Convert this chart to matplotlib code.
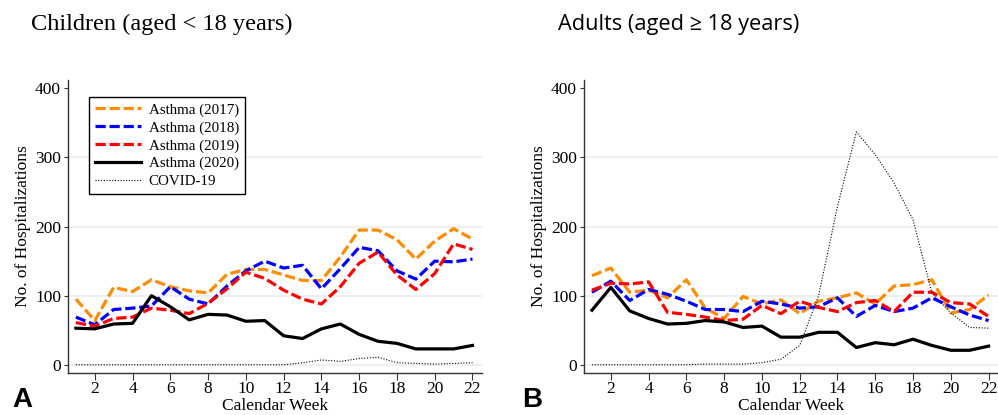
import matplotlib.pyplot as plt
import numpy as np

weeks = list(range(1, 23))

# children (aged < 18)
child_2017 = [95, 64, 112, 106, 123, 113, 107, 104, 131, 138, 138, 130, 122, 122, 156, 195, 195, 181, 153, 179, 197, 182]
child_2018 = [69, 58, 80, 82, 85, 113, 95, 88, 114, 136, 150, 140, 144, 110, 139, 170, 165, 136, 124, 150, 149, 153]
child_2019 = [61, 56, 67, 69, 82, 79, 74, 89, 110, 134, 125, 108, 95, 88, 113, 147, 163, 130, 109, 132, 175, 167]
child_2020 = [53, 52, 59, 60, 100, 84, 65, 73, 72, 63, 64, 42, 38, 52, 59, 44, 34, 31, 23, 23, 23, 28]
child_covid = [0, 0, 0, 0, 0, 0, 0, 0, 0, 0, 0, 0, 3, 7, 5, 9, 11, 3, 2, 1, 2, 3]

# adults (aged >= 18)
adult_2017 = [129, 140, 105, 108, 97, 123, 82, 67, 99, 88, 94, 74, 92, 97, 104, 88, 114, 116, 123, 75, 80, 101]
adult_2018 = [105, 121, 93, 109, 102, 92, 80, 80, 77, 92, 88, 82, 84, 97, 70, 86, 77, 82, 97, 84, 72, 64]
adult_2019 = [108, 118, 117, 120, 76, 73, 69, 64, 66, 86, 74, 92, 83, 77, 90, 93, 77, 105, 105, 90, 88, 70]
adult_2020 = [79, 112, 78, 67, 59, 60, 64, 62, 54, 56, 40, 40, 47, 47, 25, 32, 29, 37, 28, 21, 21, 27]
adult_covid = [0, 0, 0, 0, 0, 0, 1, 1, 1, 3, 8, 28, 100, 229, 337, 304, 263, 210, 104, 75, 54, 53]

labels = ["Asthma (2017)", "Asthma (2018)", "Asthma (2019)", "Asthma (2020)", "COVID-19"]

serif = "Liberation Serif"
grid_col = "#e6eef1"


def draw_panel(ax, s17, s18, s19, s20, cov, legend=False):
    ax.plot(weeks, s17, color="#ff8c00", lw=2.3, dashes=(3.2, 1.2), label=labels[0])
    ax.plot(weeks, s18, color="#0000ff", lw=2.3, dashes=(3.2, 1.2), label=labels[1])
    ax.plot(weeks, s19, color="#ff0000", lw=2.3, dashes=(3.2, 1.2), label=labels[2])
    ax.plot(weeks, s20, color="black", lw=2.3, label=labels[3])
    ax.plot(weeks, cov, color="black", lw=0.8, ls=(0, (1, 1.5)), label=labels[4])

    ax.set_xlim(0.58, 22.5)
    ax.set_ylim(-12, 412)
    ax.set_xticks(range(2, 23, 2))
    ax.set_yticks(range(0, 401, 100))
    for v in range(0, 301, 100):
        ax.axhline(v, color=grid_col, lw=1.2, zorder=0)

    for s in ["top", "right"]:
        ax.spines[s].set_visible(False)
    for s in ["left", "bottom"]:
        ax.spines[s].set_color("#333333")
        ax.spines[s].set_linewidth(1.0)
    ax.tick_params(axis="y", length=3, color="#333333", labelsize=12.5, pad=2)
    ax.tick_params(axis="x", length=5, color="#333333", labelsize=12.5, pad=1)
    for t in ax.get_xticklabels() + ax.get_yticklabels():
        t.set_fontfamily(serif)

    ax.set_xlabel("Calendar Week", fontsize=12.5, fontfamily=serif, labelpad=0.5)
    ax.set_ylabel("No. of Hospitalizations", fontsize=12.5, fontfamily=serif, labelpad=3)

    if legend:
        leg = ax.legend(loc="upper left", bbox_to_anchor=(0.05, 0.942), borderaxespad=0,
                        prop={"family": serif, "size": 10.8}, handlelength=3.1,
                        labelspacing=0.28, fancybox=False, framealpha=1,
                        edgecolor="black", borderpad=0.4, handletextpad=0.5)
        leg.get_frame().set_linewidth(1.0)


fig = plt.figure(figsize=(9.98, 4.15), dpi=100)
ax1 = fig.add_axes([0.0681, 0.101, 0.4148, 0.706])
ax2 = fig.add_axes([0.5852, 0.101, 0.4148, 0.706])

draw_panel(ax1, child_2017, child_2018, child_2019, child_2020, child_covid, legend=True)
draw_panel(ax2, adult_2017, adult_2018, adult_2019, adult_2020, adult_covid)

fig.text(0.031, 0.94, "Children (aged < 18 years)", fontsize=17.6, fontfamily=serif, va="center")
fig.text(0.559, 0.94, "Adults (aged \u2265 18 years)", fontsize=15.7, fontfamily="Open Sans", va="center")
fig.text(0.012, 0.004, "A", fontsize=20, fontweight="bold", fontfamily="Liberation Sans", va="bottom")
fig.text(0.523, 0.004, "B", fontsize=20, fontweight="bold", fontfamily="Liberation Sans", va="bottom")

fig.savefig("out.png", dpi=100)
